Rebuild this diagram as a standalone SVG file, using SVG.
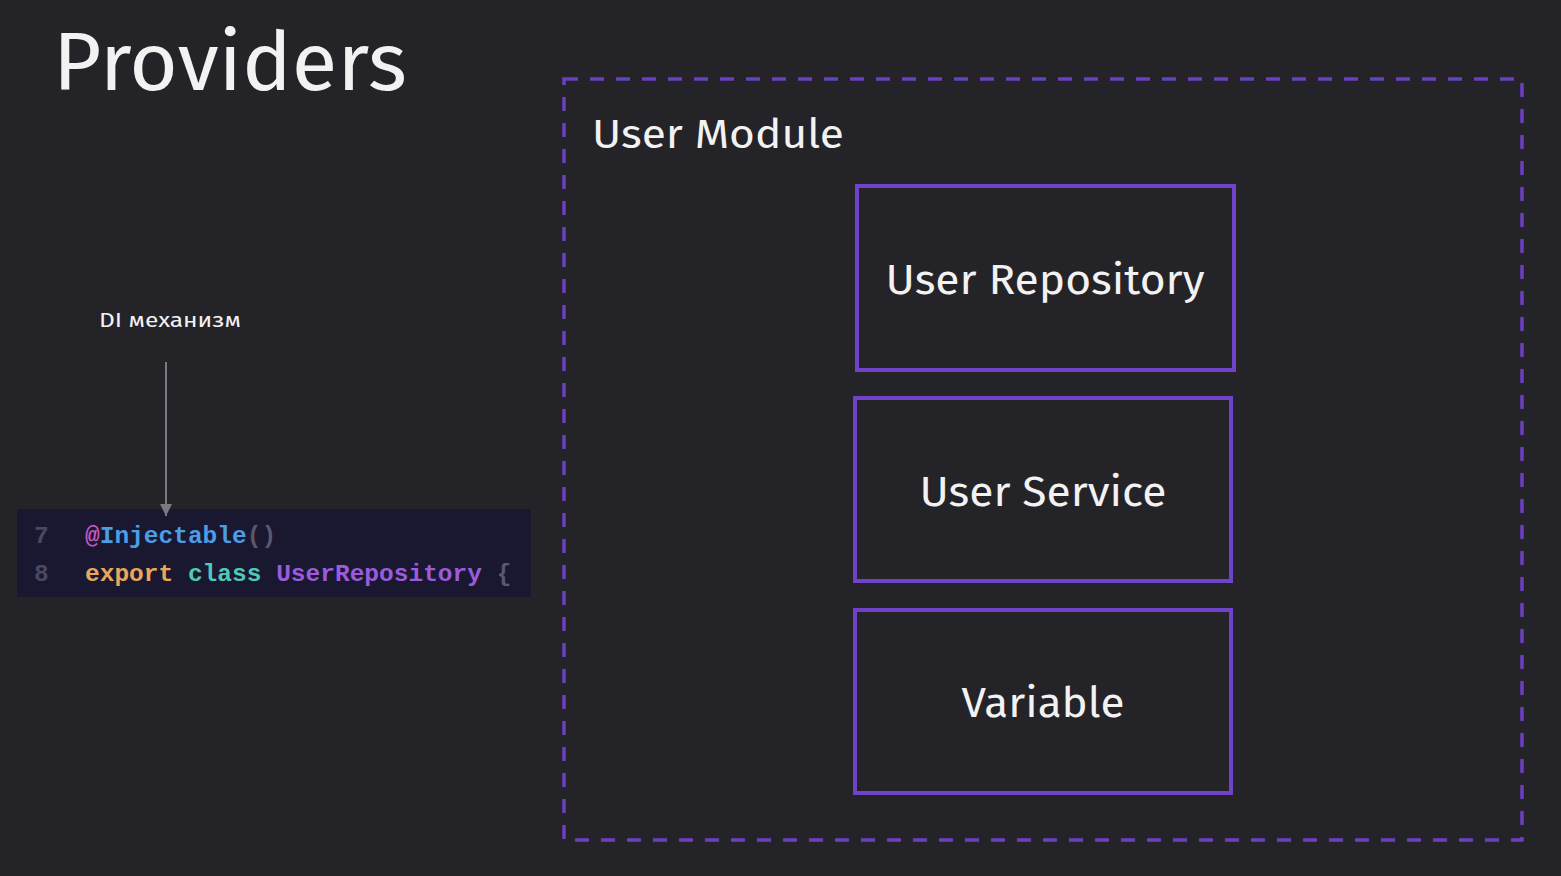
<svg xmlns="http://www.w3.org/2000/svg" width="1561" height="876" viewBox="0 0 1561 876">
<defs>
<style>
.sans{font-family:"Fira Sans","Noto Sans","Open Sans","DejaVu Sans",sans-serif;fill:#f2f2f2}
.box{fill:none;stroke:#6f42c8;stroke-width:4}
.lbl{font-size:42px;text-anchor:middle}
.mono{font-family:"Liberation Mono","DejaVu Sans Mono",monospace;font-size:24.5px;font-weight:bold}
</style>
<marker id="arr" viewBox="0 0 10 10" refX="10" refY="5" markerWidth="12" markerHeight="12" markerUnits="userSpaceOnUse" orient="auto">
<path d="M0,0 L10,5 L0,10 z" fill="#7a7a80"/>
</marker>
</defs>
<rect width="1561" height="876" fill="#242328"/>
<text id="title" class="sans" x="53" y="90" font-size="82" textLength="354" lengthAdjust="spacingAndGlyphs">Providers</text>

<g id="user-module">
<rect x="564" y="79" width="958" height="761" fill="none" stroke="#6a40c0" stroke-width="3.5" stroke-dasharray="14 12"/>
<text class="sans" x="592" y="148" font-size="40" textLength="252" lengthAdjust="spacingAndGlyphs">User Module</text>
</g>

<g id="user-repository">
<rect class="box" x="857" y="186" width="377" height="184"/>
<text class="sans lbl" x="1045" y="294" textLength="319" lengthAdjust="spacingAndGlyphs">User Repository</text>
</g>
<g id="user-service">
<rect class="box" x="855" y="398" width="376" height="183"/>
<text class="sans lbl" x="1043" y="506" textLength="247" lengthAdjust="spacingAndGlyphs">User Service</text>
</g>
<g id="variable">
<rect class="box" x="855" y="610" width="376" height="183"/>
<text class="sans lbl" x="1043" y="717" textLength="163" lengthAdjust="spacingAndGlyphs">Variable</text>
</g>

<g id="di-label">
<text class="sans" x="99" y="327" font-size="20" textLength="142" lengthAdjust="spacingAndGlyphs" fill="#e6e6e6">DI механизм</text>
</g>

<g id="code">
<rect x="17" y="509" width="514" height="88" fill="#1a1731"/>
<text class="mono" x="34" y="543" fill="#4a4860">7</text>
<text class="mono" x="34" y="581" fill="#4a4860">8</text>
<text class="mono" x="85" y="543"><tspan fill="#c65ac6">@</tspan><tspan fill="#4b9ee6">Injectable</tspan><tspan fill="#5a5870">()</tspan></text>
<text class="mono" x="85" y="581"><tspan fill="#e9a75a">export</tspan><tspan fill="#4ecab8"> class</tspan><tspan fill="#9b5cdc"> UserRepository</tspan><tspan fill="#5a5870"> {</tspan></text>
</g>

<g id="connectors">
<line x1="166" y1="362" x2="166" y2="516" stroke="#7a7a80" stroke-width="2" marker-end="url(#arr)"/>
</g>
</svg>
